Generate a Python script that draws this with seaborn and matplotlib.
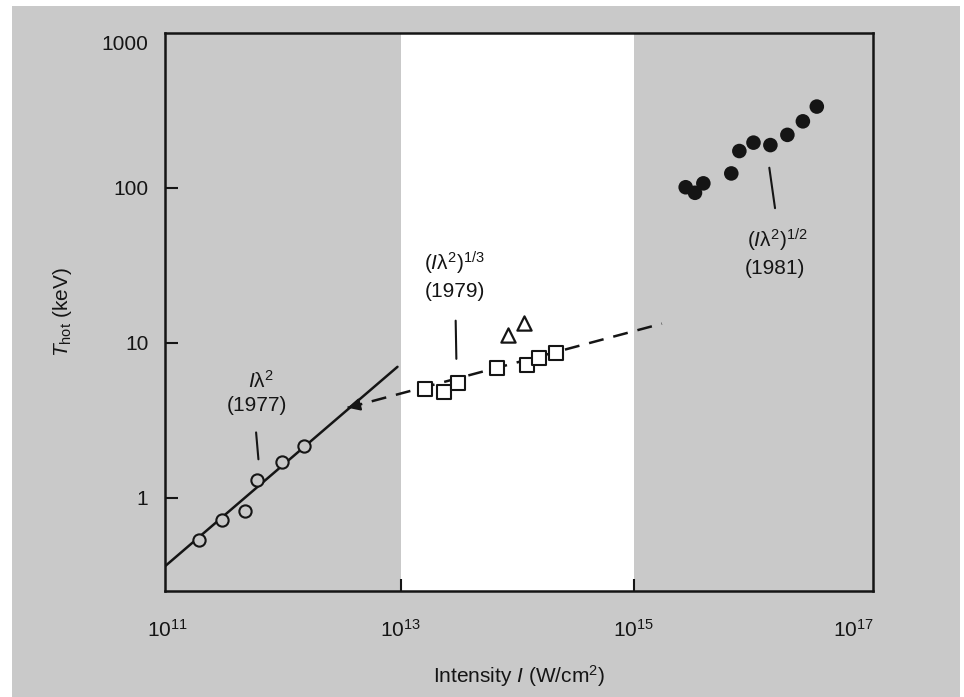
import matplotlib
matplotlib.use("Agg")
import matplotlib.pyplot as plt
import matplotlib.patches as mpatches
import matplotlib.transforms as mtransforms
import seaborn as sns

# --- data -----------------------------------------------------------------
# 1977 measurements (open circles) and the I*lambda^2 fit
intensity_1977 = [1.86e11, 2.92e11, 4.65e11, 5.83e11, 9.53e11, 1.48e12]
thot_1977 = [0.53, 0.72, 0.82, 1.30, 1.71, 2.17]
fit_1977_intensity = [8.9e10, 9.4e12]
fit_1977_thot = [0.345, 7.0]

# 1979 measurements (open squares, triangles) and the (I*lambda^2)^(1/3) fit
intensity_1979 = [1.61e13, 2.35e13, 3.13e13, 6.76e13, 1.22e14, 1.53e14, 2.13e14]
thot_1979 = [5.0, 4.8, 5.5, 6.9, 7.2, 8.0, 8.6]
intensity_1979_tri = [8.34e13, 1.14e14]
thot_1979_tri = [11.2, 13.5]
fit_1979_intensity = [3.51e12, 1.74e15]
fit_1979_thot = [3.81, 13.3]

# 1981 measurements (filled circles)
intensity_1981 = [2.78e15, 3.34e15, 3.94e15, 6.84e15, 8.02e15,
                  1.06e16, 1.48e16, 2.07e16, 2.81e16, 3.70e16]
thot_1981 = [101, 93, 107, 124, 173, 196, 189, 220, 269, 335]

x_ticks = [1e11, 1e13, 1e15, 1e17]
x_ticklabels = [r"$10^{11}$", r"$10^{13}$", r"$10^{15}$", r"$10^{17}$"]
y_ticks = [1, 10, 100, 1000]
y_ticklabels = ["1", "10", "100", "1000"]

# --- style ----------------------------------------------------------------
GRAY = "#c9c9c9"
INK = "#151515"

sns.set_theme(style="ticks")
plt.rcParams["font.family"] = ["Liberation Sans", "DejaVu Sans"]
plt.rcParams["mathtext.fontset"] = "custom"
plt.rcParams["mathtext.rm"] = "Liberation Sans"
plt.rcParams["mathtext.it"] = "Liberation Sans:italic"
plt.rcParams["mathtext.bf"] = "Liberation Sans:bold"
plt.rcParams["mathtext.sf"] = "Liberation Sans"

fig = plt.figure(figsize=(9.64, 6.97), dpi=100, facecolor="white")
fig.patches.append(mpatches.Rectangle((12 / 964, 0), 948 / 964, 691 / 697,
                                      transform=fig.transFigure,
                                      facecolor=GRAY, edgecolor="none",
                                      zorder=-10))
ax = fig.add_axes([165 / 964, 1 - 591 / 697, 708 / 964, 558 / 697])
ax.set_facecolor(GRAY)
ax.set_xscale("log")
ax.set_yscale("log")
ax.set_xlim(10 ** 10.98, 10 ** 17.05)
ax.set_ylim(0.25, 1000)

# white band over the 1979 intensity range
ax.axvspan(1e13, 1e15, color="white", zorder=0, lw=0)

# fits
sns.lineplot(x=fit_1977_intensity, y=fit_1977_thot, ax=ax, color=INK,
             lw=1.8, zorder=2)
sns.lineplot(x=fit_1979_intensity, y=fit_1979_thot, ax=ax, color=INK,
             lw=1.8, linestyle=(0, (6, 4)), zorder=2)
ax.annotate("", xy=(fit_1979_intensity[0], fit_1979_thot[0]),
            xytext=(4.6e12, 4.02),
            arrowprops=dict(arrowstyle="-|>", color=INK, lw=1.6,
                            mutation_scale=18, shrinkA=0, shrinkB=0),
            zorder=3)

# measurements
sns.scatterplot(x=intensity_1977, y=thot_1977, ax=ax, marker="o", s=78,
                facecolor=GRAY, edgecolor=INK, linewidth=1.5, zorder=4)
sns.scatterplot(x=intensity_1979, y=thot_1979, ax=ax, marker="s", s=100,
                facecolor="white", edgecolor=INK, linewidth=1.5, zorder=4)
sns.scatterplot(x=intensity_1979_tri, y=thot_1979_tri, ax=ax, marker="^",
                s=105, facecolor="white", edgecolor=INK, linewidth=1.6,
                zorder=4)
sns.scatterplot(x=intensity_1981, y=thot_1981, ax=ax, marker="o", s=110,
                color=INK, edgecolor="none", zorder=4)

# labels with short leader lines
text_kw = dict(ha="center", va="center", fontsize=15, color=INK)
ax.text(10 ** 11.798, 5.69, r"$I\mathrm{\lambda}^2$", **text_kw)
ax.text(10 ** 11.772, 3.92, "(1977)", **text_kw)
ax.plot([10 ** 11.761, 10 ** 11.781], [2.64, 1.77], color=INK, lw=1.5)

ax.text(10 ** 13.464, 32.8, r"$(I\mathrm{\lambda}^2)^{1/3}$", **text_kw)
ax.text(10 ** 13.464, 21.3, "(1979)", **text_kw)
ax.plot([10 ** 13.472, 10 ** 13.478], [13.9, 7.88], color=INK, lw=1.5)

ax.text(10 ** 16.227, 45.5, r"$(I\mathrm{\lambda}^2)^{1/2}$", **text_kw)
ax.text(10 ** 16.21, 30.0, "(1981)", **text_kw)
ax.plot([10 ** 16.161, 10 ** 16.21], [135, 74], color=INK, lw=1.5)

# axes
ax.set_xticks(x_ticks)
ax.set_xticklabels(x_ticklabels)
ax.set_yticks(y_ticks)
ax.set_yticklabels(y_ticklabels)
ax.minorticks_off()
ax.tick_params(axis="both", direction="in", length=9, width=1.5,
               color=INK, labelcolor=INK, labelsize=15)
ax.tick_params(axis="x", pad=20)
ax.tick_params(axis="y", pad=12)
for side in ["left", "right", "top", "bottom"]:
    ax.spines[side].set_visible(True)
    ax.spines[side].set_linewidth(1.8)
    ax.spines[side].set_color(INK)

# the outermost ticks sit on the frame: keep only their labels
ax.xaxis.get_major_ticks()[-1].tick1line.set_visible(False)
ax.xaxis.get_major_ticks()[0].tick1line.set_visible(False)
ax.yaxis.get_major_ticks()[-1].tick1line.set_visible(False)
last_x = ax.get_xticklabels()[-1]
last_x.set_transform(last_x.get_transform() +
                     mtransforms.ScaledTranslation(-14 / 100, 0, fig.dpi_scale_trans))
top_y = ax.get_yticklabels()[-1]
top_y.set_transform(top_y.get_transform() +
                    mtransforms.ScaledTranslation(0, -9 / 100, fig.dpi_scale_trans))

ax.set_xlabel(r"Intensity $I$ (W/cm$^2$)", fontsize=15, color=INK,
              labelpad=16)
ax.set_ylabel(r"$T_{\mathrm{hot}}$ (keV)", fontsize=15, color=INK,
              labelpad=20)

fig.savefig("out.png", dpi=100, facecolor="white")
